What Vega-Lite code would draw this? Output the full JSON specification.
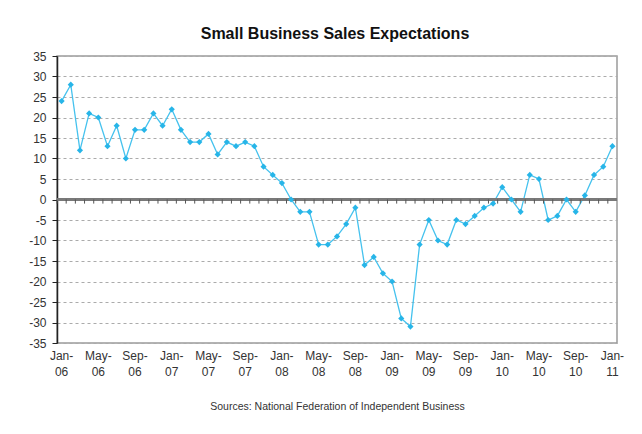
{
  "$schema": "https://vega.github.io/schema/vega-lite/v6.json",
  "width": 560,
  "height": 287,
  "autosize": {"type": "none"},
  "padding": {"left": 57, "top": 56, "right": 25, "bottom": 91},
  "background": "white",
  "title": {
    "text": "Small Business Sales Expectations",
    "anchor": "middle",
    "frame": "group",
    "font": "Liberation Sans",
    "fontSize": 16,
    "fontWeight": "bold",
    "color": "#111111",
    "offset": 8,
    "dx": -2
  },
  "config": {
    "view": {"stroke": "#9a9a9a", "strokeWidth": 1.5},
    "font": "Liberation Sans"
  },
  "data": {
    "values": [
      {"m": "Jan-06", "v": 24}, {"m": "Feb-06", "v": 28}, {"m": "Mar-06", "v": 12}, {"m": "Apr-06", "v": 21},
      {"m": "May-06", "v": 20}, {"m": "Jun-06", "v": 13}, {"m": "Jul-06", "v": 18}, {"m": "Aug-06", "v": 10},
      {"m": "Sep-06", "v": 17}, {"m": "Oct-06", "v": 17}, {"m": "Nov-06", "v": 21}, {"m": "Dec-06", "v": 18},
      {"m": "Jan-07", "v": 22}, {"m": "Feb-07", "v": 17}, {"m": "Mar-07", "v": 14}, {"m": "Apr-07", "v": 14},
      {"m": "May-07", "v": 16}, {"m": "Jun-07", "v": 11}, {"m": "Jul-07", "v": 14}, {"m": "Aug-07", "v": 13},
      {"m": "Sep-07", "v": 14}, {"m": "Oct-07", "v": 13}, {"m": "Nov-07", "v": 8}, {"m": "Dec-07", "v": 6},
      {"m": "Jan-08", "v": 4}, {"m": "Feb-08", "v": 0}, {"m": "Mar-08", "v": -3}, {"m": "Apr-08", "v": -3},
      {"m": "May-08", "v": -11}, {"m": "Jun-08", "v": -11}, {"m": "Jul-08", "v": -9}, {"m": "Aug-08", "v": -6},
      {"m": "Sep-08", "v": -2}, {"m": "Oct-08", "v": -16}, {"m": "Nov-08", "v": -14}, {"m": "Dec-08", "v": -18},
      {"m": "Jan-09", "v": -20}, {"m": "Feb-09", "v": -29}, {"m": "Mar-09", "v": -31}, {"m": "Apr-09", "v": -11},
      {"m": "May-09", "v": -5}, {"m": "Jun-09", "v": -10}, {"m": "Jul-09", "v": -11}, {"m": "Aug-09", "v": -5},
      {"m": "Sep-09", "v": -6}, {"m": "Oct-09", "v": -4}, {"m": "Nov-09", "v": -2}, {"m": "Dec-09", "v": -1},
      {"m": "Jan-10", "v": 3}, {"m": "Feb-10", "v": 0}, {"m": "Mar-10", "v": -3}, {"m": "Apr-10", "v": 6},
      {"m": "May-10", "v": 5}, {"m": "Jun-10", "v": -5}, {"m": "Jul-10", "v": -4}, {"m": "Aug-10", "v": 0},
      {"m": "Sep-10", "v": -3}, {"m": "Oct-10", "v": 1}, {"m": "Nov-10", "v": 6}, {"m": "Dec-10", "v": 8},
      {"m": "Jan-11", "v": 13}
    ]
  },
  "layer": [
    {
      "mark": {"type": "line", "color": "#45c2ee", "strokeWidth": 1.3},
      "encoding": {
        "x": {
          "field": "m", "type": "ordinal", "sort": null, "bandPosition": 0.5,
          "scale": {"type": "band", "paddingInner": 0, "paddingOuter": 0},
          "axis": {
            "orient": "bottom",
            "values": ["Jan-06","May-06","Sep-06","Jan-07","May-07","Sep-07","Jan-08","May-08","Sep-08","Jan-09","May-09","Sep-09","Jan-10","May-10","Sep-10","Jan-11"],
            "labelExpr": "[split(datum.value,'-')[0] + '-', split(datum.value,'-')[1]]",
            "labelAngle": 0,
            "labelAlign": "center",
            "labelBaseline": "top",
            "labelPadding": 7,
            "labelLineHeight": 16,
            "labelFontSize": 12,
            "labelColor": "#333333",
            "domain": false,
            "ticks": false,
            "grid": false,
            "title": "Sources: National Federation of Independent Business",
            "titleFontSize": 10.5,
            "titleFontWeight": "normal",
            "titleColor": "#333333",
            "titlePadding": 24
          }
        },
        "y": {
          "field": "v", "type": "quantitative",
          "scale": {"domain": [-35, 35], "nice": false},
          "axis": {
            "orient": "left",
            "values": [-35,-30,-25,-20,-15,-10,-5,0,5,10,15,20,25,30,35],
            "labelExpr": "datum.value + ''",
            "labelFontSize": 12,
            "labelColor": "#333333",
            "labelPadding": 6,
            "tickSize": 5,
            "tickColor": "#222222",
            "domainColor": "#222222",
            "domainWidth": 1.5,
            "grid": true,
            "gridColor": "#ababab",
            "gridDash": [3, 3],
            "gridWidth": 1,
            "title": null
          }
        }
      }
    },
    {
      "mark": {"type": "rule", "color": "#7a7a7a", "strokeWidth": 1.5},
      "encoding": {
        "y": {
          "datum": 0, "type": "quantitative",
          "scale": {"domain": [-35, 35], "nice": false},
          "axis": {
            "orient": "left",
            "values": [-35,-30,-25,-20,-15,-10,-5,0,5,10,15,20,25,30,35],
            "labelExpr": "datum.value + ''",
            "labelFontSize": 12,
            "labelColor": "#333333",
            "labelPadding": 6,
            "tickSize": 5,
            "tickColor": "#222222",
            "domainColor": "#222222",
            "domainWidth": 1.5,
            "grid": true,
            "gridColor": "#ababab",
            "gridDash": [3, 3],
            "gridWidth": 1,
            "title": null
          }
        }
      }
    },
    {
      "mark": {"type": "rule", "color": "#555555", "strokeWidth": 1},
      "encoding": {
        "x": {
          "field": "m", "type": "ordinal", "sort": null, "bandPosition": 0,
          "scale": {"type": "band", "paddingInner": 0, "paddingOuter": 0},
          "axis": {
            "orient": "bottom",
            "values": ["Jan-06","May-06","Sep-06","Jan-07","May-07","Sep-07","Jan-08","May-08","Sep-08","Jan-09","May-09","Sep-09","Jan-10","May-10","Sep-10","Jan-11"],
            "labelExpr": "[split(datum.value,'-')[0] + '-', split(datum.value,'-')[1]]",
            "labelAngle": 0,
            "labelAlign": "center",
            "labelBaseline": "top",
            "labelPadding": 7,
            "labelLineHeight": 16,
            "labelFontSize": 12,
            "labelColor": "#333333",
            "domain": false,
            "ticks": false,
            "grid": false,
            "title": "Sources: National Federation of Independent Business",
            "titleFontSize": 10.5,
            "titleFontWeight": "normal",
            "titleColor": "#333333",
            "titlePadding": 24
          }
        },
        "y": {
          "datum": 0, "type": "quantitative",
          "scale": {"domain": [-35, 35], "nice": false},
          "axis": {
            "orient": "left",
            "values": [-35,-30,-25,-20,-15,-10,-5,0,5,10,15,20,25,30,35],
            "labelExpr": "datum.value + ''",
            "labelFontSize": 12,
            "labelColor": "#333333",
            "labelPadding": 6,
            "tickSize": 5,
            "tickColor": "#222222",
            "domainColor": "#222222",
            "domainWidth": 1.5,
            "grid": true,
            "gridColor": "#ababab",
            "gridDash": [3, 3],
            "gridWidth": 1,
            "title": null
          }
        },
        "y2": {"datum": -1}
      }
    },
    {
      "mark": {"type": "point", "shape": "diamond", "filled": true, "size": 38, "color": "#27b5e8", "opacity": 1},
      "encoding": {
        "x": {
          "field": "m", "type": "ordinal", "sort": null, "bandPosition": 0.5,
          "scale": {"type": "band", "paddingInner": 0, "paddingOuter": 0},
          "axis": {
            "orient": "bottom",
            "values": ["Jan-06","May-06","Sep-06","Jan-07","May-07","Sep-07","Jan-08","May-08","Sep-08","Jan-09","May-09","Sep-09","Jan-10","May-10","Sep-10","Jan-11"],
            "labelExpr": "[split(datum.value,'-')[0] + '-', split(datum.value,'-')[1]]",
            "labelAngle": 0,
            "labelAlign": "center",
            "labelBaseline": "top",
            "labelPadding": 7,
            "labelLineHeight": 16,
            "labelFontSize": 12,
            "labelColor": "#333333",
            "domain": false,
            "ticks": false,
            "grid": false,
            "title": "Sources: National Federation of Independent Business",
            "titleFontSize": 10.5,
            "titleFontWeight": "normal",
            "titleColor": "#333333",
            "titlePadding": 24
          }
        },
        "y": {
          "field": "v", "type": "quantitative",
          "scale": {"domain": [-35, 35], "nice": false},
          "axis": {
            "orient": "left",
            "values": [-35,-30,-25,-20,-15,-10,-5,0,5,10,15,20,25,30,35],
            "labelExpr": "datum.value + ''",
            "labelFontSize": 12,
            "labelColor": "#333333",
            "labelPadding": 6,
            "tickSize": 5,
            "tickColor": "#222222",
            "domainColor": "#222222",
            "domainWidth": 1.5,
            "grid": true,
            "gridColor": "#ababab",
            "gridDash": [3, 3],
            "gridWidth": 1,
            "title": null
          }
        }
      }
    }
  ]
}
